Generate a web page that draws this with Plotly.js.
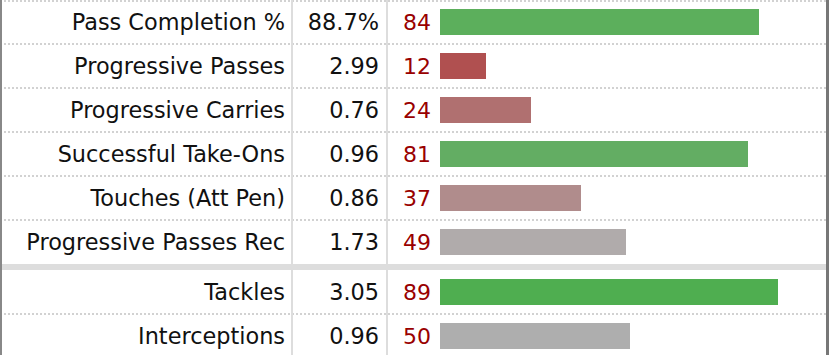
<!DOCTYPE html>
<html>
<head>
<meta charset="utf-8">
<script src="https://cdn.plot.ly/plotly-3.0.1.min.js"></script>
<style>
  html, body { margin: 0; padding: 0; background: #fff; }
  #chart { width: 829px; height: 355px; }
</style>
</head>
<body>
<div id="chart"></div>
<script>
// ---- data ----
const metrics = [
  'Pass Completion %', 'Progressive Passes', 'Progressive Carries',
  'Successful Take-Ons', 'Touches (Att Pen)', 'Progressive Passes Rec',
  'Tackles', 'Interceptions'
];
const per90Labels = ['88.7%', '2.99', '0.76', '0.96', '0.86', '1.73', '3.05', '0.96'];
const percentiles = [84, 12, 24, 81, 37, 49, 89, 50];
const groups = [0, 0, 0, 0, 0, 0, 1, 1];

// ---- style ----
const barColors = ['#5caf5c', '#b05050', '#b07070', '#63ad63', '#b08c8c', '#b0abab', '#4fae50', '#aeaeae'];
const W = 829, H = 355, ROW = 44, GAP = 6, TEXT_SHIFT = 2.5;
const rowY = metrics.map((m, i) => i * ROW + ROW / 2 + groups[i] * GAP);
const textY = rowY.map(y => y + TEXT_SHIFT);
const FONT = 'DejaVu Sans, Verdana, sans-serif';

const traces = [
  {
    type: 'bar', orientation: 'h',
    x: percentiles, y: rowY,
    xaxis: 'x2', yaxis: 'y',
    width: 25.5,
    marker: { color: barColors, line: { width: 0 } },
    hoverinfo: 'skip'
  },
  {
    type: 'scatter', mode: 'text',
    x: metrics.map(() => 285), y: textY,
    text: metrics, textposition: 'middle left',
    textfont: { family: FONT, size: 22.4, color: '#111' },
    xaxis: 'x', yaxis: 'y', hoverinfo: 'skip'
  },
  {
    type: 'scatter', mode: 'text',
    x: metrics.map(() => 379), y: textY,
    text: per90Labels, textposition: 'middle left',
    textfont: { family: FONT, size: 22.4, color: '#111' },
    xaxis: 'x', yaxis: 'y', hoverinfo: 'skip'
  },
  {
    type: 'scatter', mode: 'text',
    x: metrics.map(() => 431), y: textY,
    text: percentiles.map(String), textposition: 'middle left',
    textfont: { family: FONT, size: 22, color: '#990000' },
    xaxis: 'x', yaxis: 'y', hoverinfo: 'skip'
  }
];

const shapes = [];
// dotted row separators
const sepY = [1];
for (let i = 1; i < metrics.length; i++) {
  if (groups[i] !== groups[i - 1]) continue;
  sepY.push(i * ROW + groups[i] * GAP);
}
sepY.forEach(y => shapes.push({
  type: 'line', xref: 'x', yref: 'y', x0: 0, x1: W, y0: y, y1: y,
  line: { color: '#c4c4c4', width: 1.3, dash: '2px,2px' }, layer: 'below'
}));
// group separator
for (let i = 1; i < metrics.length; i++) {
  if (groups[i] !== groups[i - 1]) {
    shapes.push({
      type: 'rect', xref: 'x', yref: 'y', x0: 0, x1: W,
      y0: i * ROW, y1: i * ROW + GAP,
      fillcolor: '#dddddd', line: { width: 0 }, layer: 'below'
    });
  }
}
// column lines
[292, 387].forEach(x => shapes.push({
  type: 'line', xref: 'x', yref: 'y', x0: x, x1: x, y0: 0, y1: H,
  line: { color: '#dddddd', width: 2 }, layer: 'below'
}));
// outer borders
shapes.push({ type: 'line', xref: 'x', yref: 'y', x0: 1, x1: 1, y0: 0, y1: H,
  line: { color: '#888888', width: 2 } });
shapes.push({ type: 'line', xref: 'x', yref: 'y', x0: 827.5, x1: 827.5, y0: 0, y1: H,
  line: { color: '#777777', width: 3 } });

const layout = {
  width: W, height: H,
  margin: { l: 0, r: 0, t: 0, b: 0, pad: 0 },
  paper_bgcolor: '#ffffff', plot_bgcolor: 'rgba(0,0,0,0)',
  showlegend: false,
  xaxis: { domain: [0, 1], range: [0, W], visible: false, fixedrange: true },
  xaxis2: { domain: [440 / W, 820 / W], range: [0, 100], anchor: 'y', visible: false, fixedrange: true },
  yaxis: { domain: [0, 1], range: [H, 0], visible: false, fixedrange: true },
  shapes: shapes,
  bargap: 0
};

Plotly.newPlot('chart', traces, layout, { staticPlot: true, displayModeBar: false });
</script>
</body>
</html>
